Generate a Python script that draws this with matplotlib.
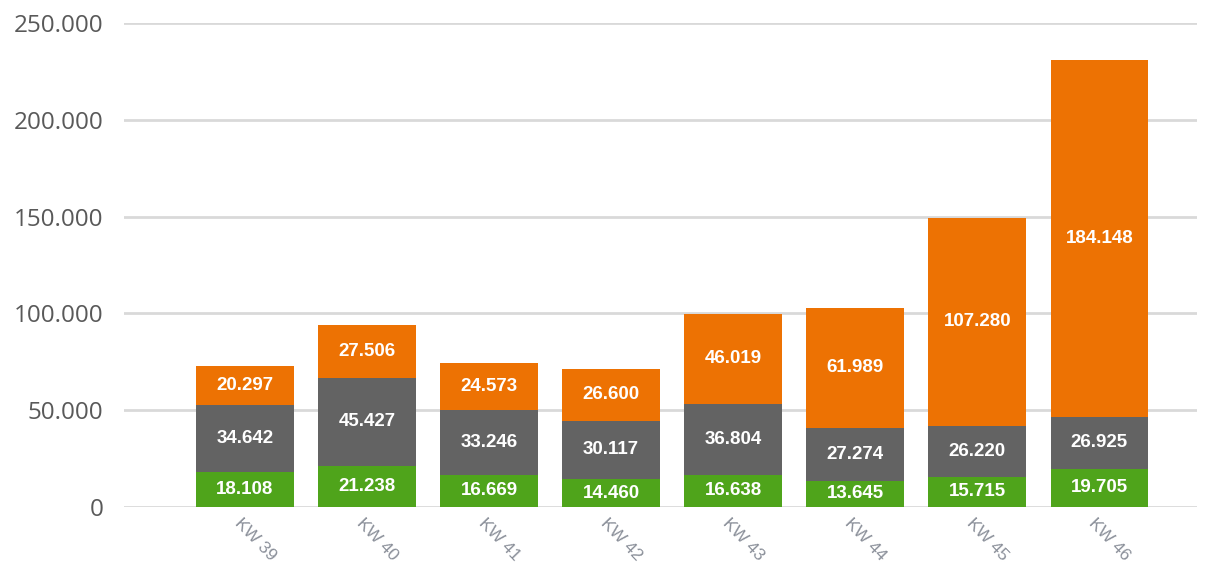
import matplotlib
matplotlib.use("Agg")
import matplotlib.pyplot as plt
import numpy as np
from matplotlib.ticker import FuncFormatter

# weekly values, stacked bottom -> top
weeks = ["KW 39", "KW 40", "KW 41", "KW 42", "KW 43", "KW 44", "KW 45", "KW 46"]
green_vals = [18108, 21238, 16669, 14460, 16638, 13645, 15715, 19705]
gray_vals = [34642, 45427, 33246, 30117, 36804, 27274, 26220, 26925]
orange_vals = [20297, 27506, 24573, 26600, 46019, 61989, 107280, 184148]
y_ticks = [0, 50000, 100000, 150000, 200000, 250000]

colors = ["#4fa41b", "#636363", "#ed7203"]


def de_fmt(v, pos=None):
    # german thousands separator
    return f"{int(round(v)):,}".replace(",", ".")


fig = plt.figure(figsize=(12.09, 5.65), dpi=100)
ax = fig.add_axes([124 / 1209, 1 - 507 / 565, (1197 - 124) / 1209, (507 - 23) / 565])

x = np.arange(len(weeks))
bottom = np.zeros(len(weeks))
for vals, col in zip([green_vals, gray_vals, orange_vals], colors):
    vals = np.array(vals, dtype=float)
    ax.bar(x, vals, width=0.8, bottom=bottom, color=col, zorder=3)
    for xi, b, v in zip(x, bottom, vals):
        ax.text(xi, b + v / 2, de_fmt(v), ha="center", va="center",
                color="white", fontsize=13.5, fontweight="bold",
                family="Liberation Sans", zorder=4)
    bottom += vals

ax.set_xlim(-0.99, 7.8)
ax.set_ylim(0, 250000)
ax.set_yticks(y_ticks)
ax.yaxis.set_major_formatter(FuncFormatter(de_fmt))
ax.grid(axis="y", color="#d9d9d9", linewidth=2, zorder=0)
ax.set_axisbelow(True)
for s in ax.spines.values():
    s.set_visible(False)

ax.tick_params(axis="y", length=0, pad=15, labelsize=17.5, labelcolor="#595959")
for lbl in ax.get_yticklabels():
    lbl.set_family("Open Sans")

ax.set_xticks(x - 0.02)
ax.set_xticklabels(weeks, rotation=-46, ha="left", va="top",
                   rotation_mode="anchor", fontsize=12.5, color="#8a8f99",
                   family="Liberation Sans")
ax.tick_params(axis="x", length=0, pad=6)

fig.savefig("out.png", dpi=100)
